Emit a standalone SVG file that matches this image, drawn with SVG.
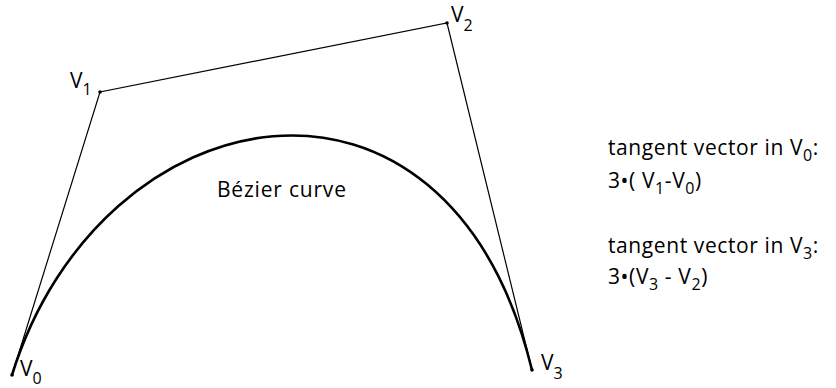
<svg xmlns="http://www.w3.org/2000/svg" width="836" height="388" viewBox="0 0 836 388">
<style>
text{font-family:"Open Sans","Liberation Sans",sans-serif;fill:#000}
.lbl{font-size:21px}
.sub{font-size:16px}
.txt{font-size:21px;letter-spacing:0.6px}
.poly{fill:none;stroke:#000;stroke-width:1.2}
.curve{fill:none;stroke:#000;stroke-width:2.6}
.pt{fill:#000}
</style>
<rect width="836" height="388" fill="#fff"/>
<g id="connectors">
<polyline class="poly" points="12,375 100,92 447,23 532,370"/>
<path class="curve" d="M12,375 C100,92 447,23 532,370"/>
</g>
<g id="V0"><circle class="pt" cx="12" cy="375" r="1.8"/><text class="lbl" x="20" y="376">V<tspan class="sub" dy="8">0</tspan></text></g>
<g id="V1"><circle class="pt" cx="100" cy="92" r="1.8"/><text class="lbl" x="70" y="88">V<tspan class="sub" dy="7">1</tspan></text></g>
<g id="V2"><circle class="pt" cx="447" cy="23" r="1.8"/><text class="lbl" x="451" y="22">V<tspan class="sub" dy="9">2</tspan></text></g>
<g id="V3"><circle class="pt" cx="532" cy="370" r="1.8"/><text class="lbl" x="541" y="370">V<tspan class="sub" dy="9">3</tspan></text></g>
<g id="curve-label"><text class="txt" x="217" y="197" style="letter-spacing:0.8px">Bézier curve</text></g>
<g id="tangent0">
<text class="txt" x="608" y="155">tangent vector in V<tspan class="sub" dy="6">0</tspan><tspan dy="-6">:</tspan></text>
<text class="txt" x="608" y="188">3•( V<tspan class="sub" dy="6">1</tspan><tspan dy="-6">-V</tspan><tspan class="sub" dy="6">0</tspan><tspan dy="-6">)</tspan></text>
</g>
<g id="tangent3">
<text class="txt" x="608" y="253">tangent vector in V<tspan class="sub" dy="6">3</tspan><tspan dy="-6">:</tspan></text>
<text class="txt" x="608" y="284">3•(V<tspan class="sub" dy="6">3</tspan><tspan dy="-6"> - V</tspan><tspan class="sub" dy="6">2</tspan><tspan dy="-6">)</tspan></text>
</g>
</svg>
